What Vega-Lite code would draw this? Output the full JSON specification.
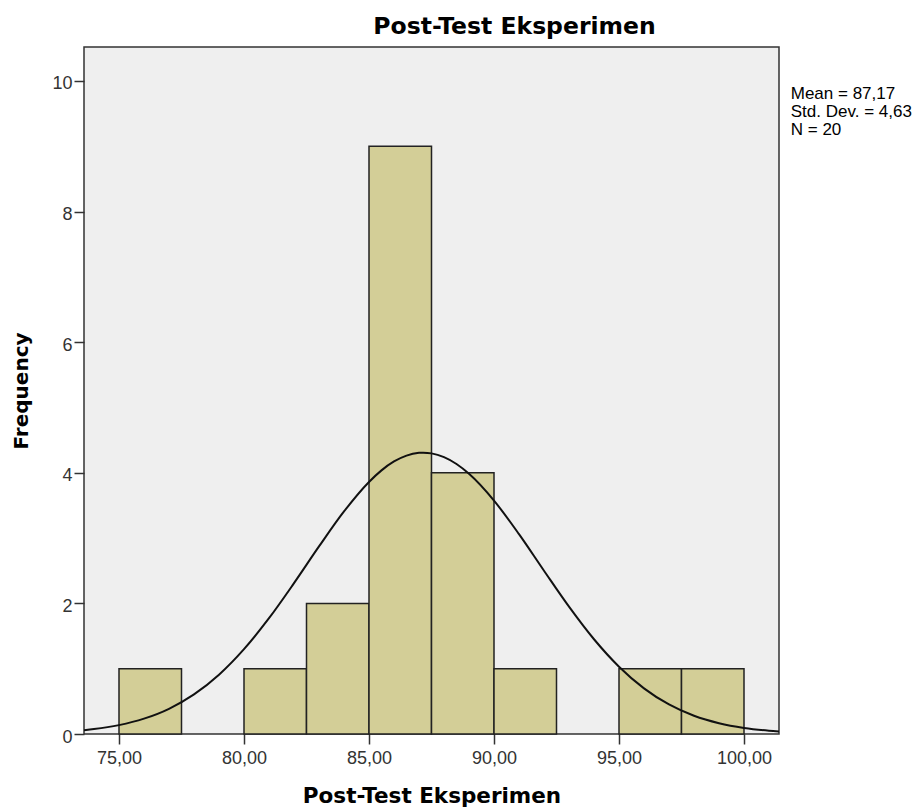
{
  "$schema": "https://vega.github.io/schema/vega-lite/v6.json",
  "autosize": "none",
  "width": 695,
  "height": 687,
  "padding": {"left": 84, "top": 47, "right": 144, "bottom": 78},
  "background": "white",
  "title": {
    "text": "Post-Test Eksperimen",
    "font": "DejaVu Sans",
    "fontSize": 23.5,
    "fontWeight": "bold",
    "color": "#000000",
    "anchor": "middle",
    "dx": 83,
    "offset": 9
  },
  "datasets": {
    "bins": [
      {"lo": 75, "hi": 77.5, "count": 1},
      {"lo": 80, "hi": 82.5, "count": 1},
      {"lo": 82.5, "hi": 85, "count": 2},
      {"lo": 85, "hi": 87.5, "count": 9},
      {"lo": 87.5, "hi": 90, "count": 4},
      {"lo": 90, "hi": 92.5, "count": 1},
      {"lo": 95, "hi": 97.5, "count": 1},
      {"lo": 97.5, "hi": 100, "count": 1}
    ],
    "curve": [
      {"score": 73.6, "freq": 0.058},
      {"score": 74, "freq": 0.075},
      {"score": 75, "freq": 0.136},
      {"score": 76, "freq": 0.235},
      {"score": 77, "freq": 0.386},
      {"score": 78, "freq": 0.606},
      {"score": 79, "freq": 0.908},
      {"score": 80, "freq": 1.299},
      {"score": 81, "freq": 1.773},
      {"score": 82, "freq": 2.31},
      {"score": 83, "freq": 2.872},
      {"score": 84, "freq": 3.408},
      {"score": 85, "freq": 3.86},
      {"score": 85.5, "freq": 4.037},
      {"score": 86, "freq": 4.173},
      {"score": 86.5, "freq": 4.263},
      {"score": 87, "freq": 4.305},
      {"score": 87.17, "freq": 4.308},
      {"score": 87.5, "freq": 4.297},
      {"score": 88, "freq": 4.239},
      {"score": 88.5, "freq": 4.134},
      {"score": 89, "freq": 3.984},
      {"score": 90, "freq": 3.574},
      {"score": 91, "freq": 3.06},
      {"score": 92, "freq": 2.5},
      {"score": 93, "freq": 1.95},
      {"score": 94, "freq": 1.451},
      {"score": 95, "freq": 1.031},
      {"score": 96, "freq": 0.699},
      {"score": 97, "freq": 0.452},
      {"score": 98, "freq": 0.279},
      {"score": 99, "freq": 0.165},
      {"score": 100, "freq": 0.093},
      {"score": 101, "freq": 0.05},
      {"score": 101.4, "freq": 0.038}
    ],
    "stats": [
      {"mean": "87,17", "sd": "4,63", "n": 20}
    ]
  },
  "config": {
    "view": {"fill": "#EFEFEF", "stroke": "#333333", "strokeWidth": 1.5},
    "axis": {
      "grid": false,
      "domain": false,
      "tickColor": "#333333",
      "tickWidth": 1.5,
      "tickSize": 10,
      "labelFont": "Liberation Sans",
      "labelFontSize": 18,
      "labelColor": "#333333",
      "titleFont": "DejaVu Sans",
      "titleFontWeight": "bold",
      "titleColor": "#000000"
    }
  },
  "layer": [
    {
      "data": {"name": "bins"},
      "mark": {"type": "rect", "fill": "#D3CE97", "stroke": "#222222", "strokeWidth": 1.5},
      "encoding": {
        "x": {
          "field": "lo",
          "type": "quantitative",
          "scale": {"domain": [73.6, 101.4], "nice": false, "zero": false},
          "axis": {
            "values": [75, 80, 85, 90, 95, 100],
            "labelExpr": "replace(format(datum.value, '.2f'), '.', ',')",
            "labelPadding": 5,
            "title": "Post-Test Eksperimen",
            "titleFontSize": 21.5,
            "titlePadding": 18
          }
        },
        "x2": {"field": "hi"},
        "y": {
          "field": "count",
          "type": "quantitative",
          "scale": {"domain": [0, 10.52], "nice": false},
          "axis": {
            "values": [0, 2, 4, 6, 8, 10],
            "format": "d",
            "labelPadding": 2,
            "labelOffset": 3,
            "title": "Frequency",
            "titleFontSize": 20,
            "titlePadding": 20
          }
        },
        "y2": {"datum": 0}
      }
    },
    {
      "data": {"name": "curve"},
      "mark": {"type": "line", "color": "#111111", "strokeWidth": 2, "interpolate": "monotone", "clip": true},
      "encoding": {
        "x": {"field": "score", "type": "quantitative"},
        "y": {"field": "freq", "type": "quantitative"}
      }
    },
    {
      "data": {"name": "stats"},
      "mark": {
        "type": "text",
        "align": "left",
        "baseline": "alphabetic",
        "font": "Liberation Sans",
        "fontSize": 17,
        "lineHeight": 18,
        "color": "#000000",
        "clip": false
      },
      "encoding": {
        "x": {"datum": 101.87, "type": "quantitative"},
        "y": {"datum": 9.72, "type": "quantitative"},
        "text": {"value": ["Mean = 87,17", "Std. Dev. = 4,63", "N = 20"]}
      }
    }
  ]
}
